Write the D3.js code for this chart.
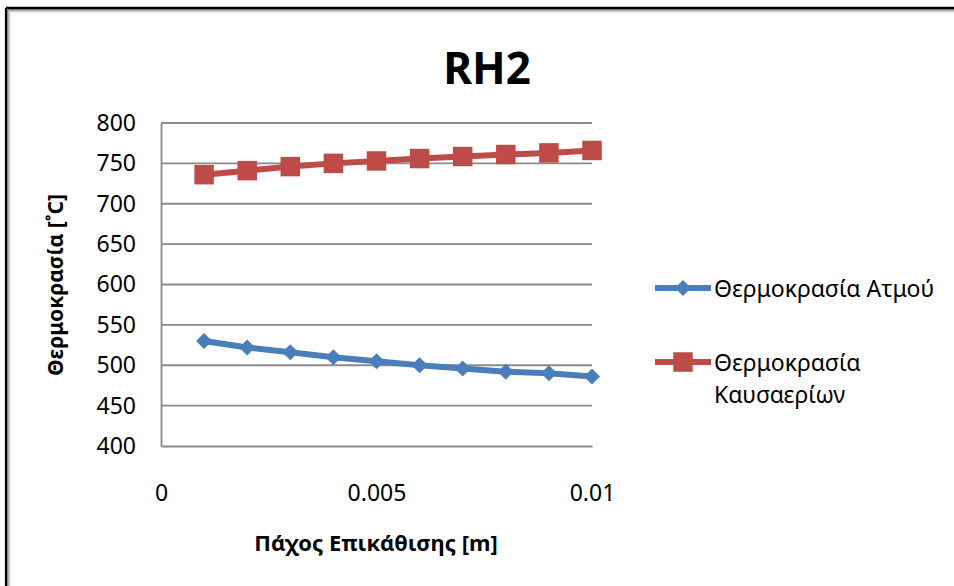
<!DOCTYPE html>
<html>
<head>
<meta charset="utf-8">
<script src="https://cdn.jsdelivr.net/npm/d3@7"></script>
<style>
  html, body { margin: 0; padding: 0; background: #fff; }
  svg { display: block; }
  text { font-family: "Noto Sans", "Open Sans", sans-serif; fill: #000; }
</style>
</head>
<body>
<svg id="chart" width="954" height="586"></svg>
<script>
// Deposit thickness [m]
const thickness = [0.001, 0.002, 0.003, 0.004, 0.005, 0.006, 0.007, 0.008, 0.009, 0.010];
// Steam temperature [°C]
const steamTemp = [530, 522, 516, 510, 505, 500, 496, 492, 490, 486];
// Flue gas temperature [°C]
const flueTemp = [736, 741, 746, 750, 753, 756, 758.5, 761, 763, 766];

const yTicks = [400, 450, 500, 550, 600, 650, 700, 750, 800];
const xTicks = [0, 0.005, 0.01];
const xTickLabels = ["0", "0.005", "0.01"];

const seriesNames = ["Θερμοκρασία Ατμού", "Θερμοκρασία Καυσαερίων"];
const seriesColors = ["#4A7EBB", "#BE4B48"];

const svg = d3.select("#chart");

// Chart frame with soft inner shadow (top and left edges)
const frame = svg.append("g");
[["#000", 2.2, 7.9], ["#7a7a7a", 1, 9.5], ["#a8a8a8", 1, 10.5], ["#cfcfcf", 1, 11.5], ["#ececec", 1, 12.5]]
  .forEach(([c, w, o]) => {
    frame.append("line").attr("x1", o - 1.9).attr("x2", 954).attr("y1", o).attr("y2", o)
      .attr("stroke", c).attr("stroke-width", w);
    frame.append("line").attr("x1", o - 1.9).attr("x2", o - 1.9).attr("y1", o).attr("y2", 586)
      .attr("stroke", c).attr("stroke-width", w);
  });

const x = d3.scaleLinear().domain([0, 0.01]).range([161, 592]);
const y = d3.scaleLinear().domain([400, 800]).range([446, 123]);

// Horizontal gridlines
svg.append("g")
  .selectAll("line")
  .data(yTicks.slice(1))
  .join("line")
  .attr("x1", x(0)).attr("x2", x(0.01))
  .attr("y1", d => y(d)).attr("y2", d => y(d))
  .attr("stroke", "#8a8a8a").attr("stroke-width", 1.8);

// Y axis
const yAxis = svg.append("g")
  .attr("transform", `translate(${x(0)},0)`)
  .call(d3.axisLeft(y).tickValues(yTicks).tickSize(0).tickPadding(25));
yAxis.select(".domain").attr("stroke", "#8a8a8a").attr("stroke-width", 1.8);
yAxis.selectAll(".tick text").style("font-size", "23px").attr("fill", "#000");

// X axis
const xAxis = svg.append("g")
  .attr("transform", `translate(0,${y(400)})`)
  .call(d3.axisBottom(x).tickValues(xTicks).tickFormat((d, i) => xTickLabels[i]).tickSize(0).tickPadding(39));
xAxis.select(".domain").attr("stroke", "#8a8a8a").attr("stroke-width", 1.8);
xAxis.selectAll(".tick text").style("font-size", "23px").attr("fill", "#000");

// Title
svg.append("text")
  .attr("x", 487).attr("y", 84)
  .attr("text-anchor", "middle")
  .style("font-size", "44px").style("font-weight", "bold")
  .text("RH2");

// Axis titles
svg.append("text")
  .attr("transform", "translate(63,285) rotate(-90)")
  .attr("text-anchor", "middle")
  .style("font-size", "21px").style("font-weight", "bold")
  .text("Θερμοκρασία [˚C]");

svg.append("text")
  .attr("x", 376).attr("y", 551)
  .attr("text-anchor", "middle")
  .style("font-size", "22px").style("font-weight", "bold")
  .text("Πάχος Επικάθισης [m]");

// Series lines and markers
const line = d3.line().x(d => x(d[0])).y(d => y(d[1]));
const diamond = d3.symbol().type(d3.symbolDiamond2).size(165);
const square = d3.symbol().type(d3.symbolSquare).size(380);

const series = [
  { values: steamTemp, color: seriesColors[0], sym: diamond, width: 6 },
  { values: flueTemp, color: seriesColors[1], sym: square, width: 6 }
];

series.forEach(s => {
  const pts = thickness.map((t, i) => [t, s.values[i]]);
  svg.append("path")
    .attr("d", line(pts))
    .attr("fill", "none")
    .attr("stroke", s.color)
    .attr("stroke-width", s.width)
    .attr("stroke-linejoin", "round");
  svg.append("g")
    .selectAll("path")
    .data(pts)
    .join("path")
    .attr("transform", d => `translate(${x(d[0])},${y(d[1])})`)
    .attr("d", s.sym())
    .attr("fill", s.color);
});

// Legend
const legend = svg.append("g");
const legendRows = [
  { lines: ["Θερμοκρασία Ατμού"], y: 288, base: 297, s: series[0] },
  { lines: ["Θερμοκρασία", "Καυσαερίων"], y: 362, base: 371, s: series[1] }
];
legendRows.forEach(r => {
  legend.append("line")
    .attr("x1", 655).attr("x2", 711).attr("y1", r.y).attr("y2", r.y)
    .attr("stroke", r.s.color).attr("stroke-width", r.s.width);
  legend.append("path")
    .attr("transform", `translate(683,${r.y})`)
    .attr("d", r.s.sym())
    .attr("fill", r.s.color);
  r.lines.forEach((t, i) => {
    legend.append("text")
      .attr("x", 714).attr("y", r.base + i * 32)
      .style("font-size", "23px")
      .text(t);
  });
});
</script>
</body>
</html>
